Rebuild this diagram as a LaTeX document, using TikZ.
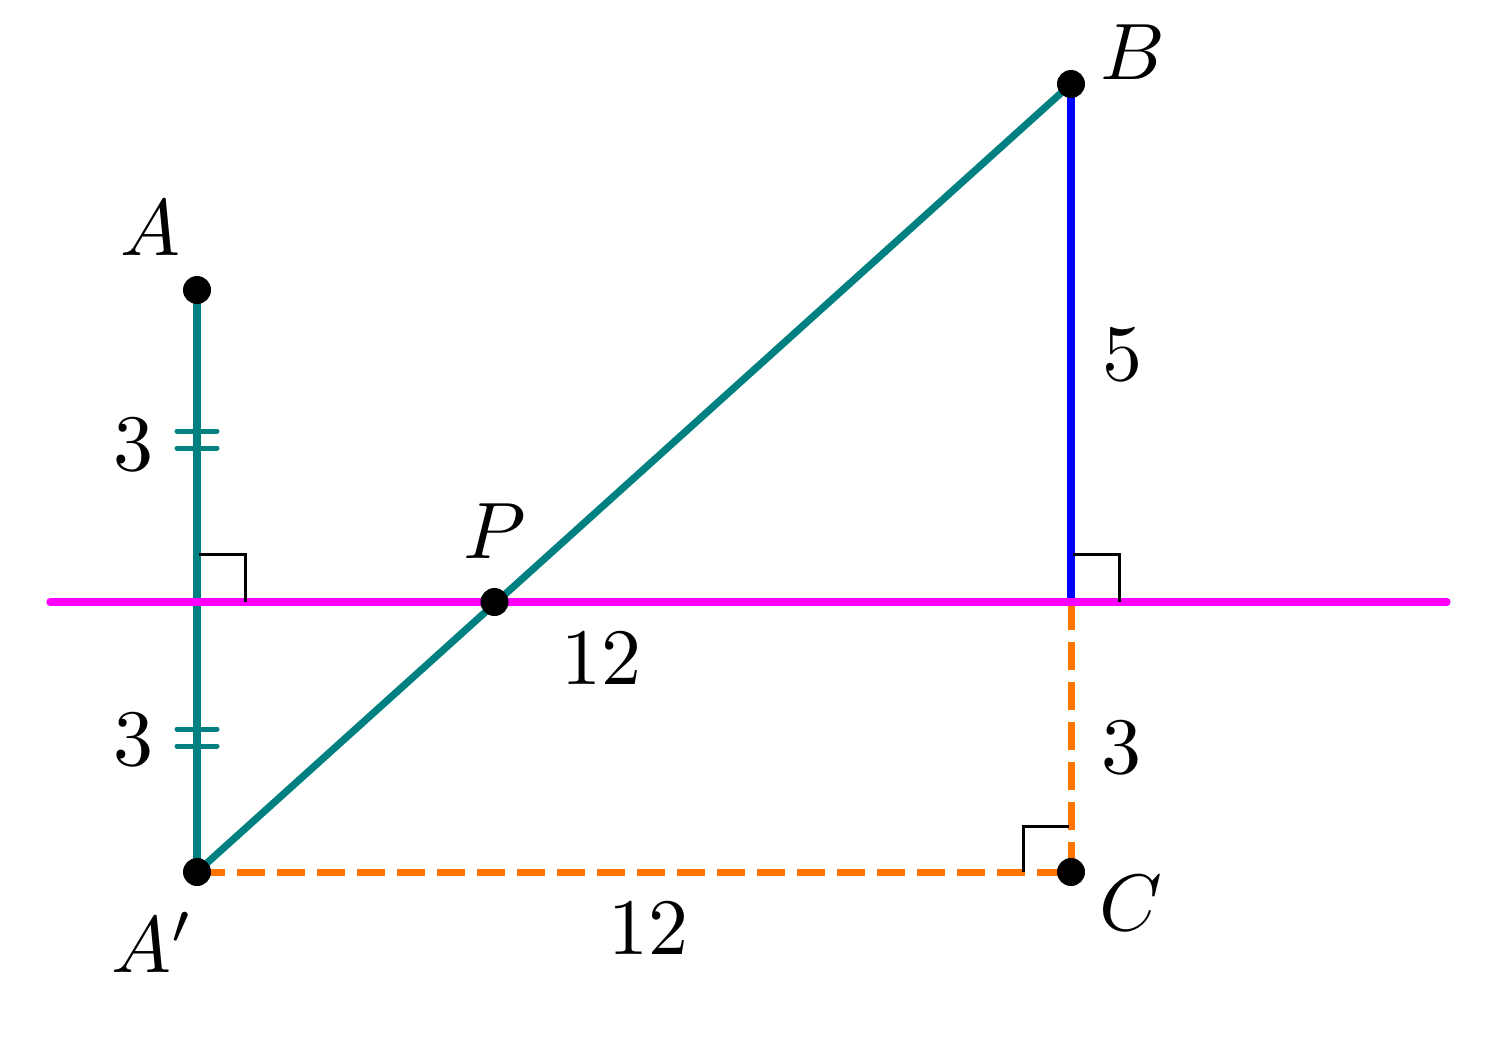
\documentclass[tikz,border=0pt]{standalone}
\definecolor{tealc}{RGB}{0,128,128}
\definecolor{bluec}{RGB}{0,0,255}
\definecolor{magc}{RGB}{255,0,255}
\definecolor{orc}{RGB}{255,117,0}
\begin{document}
\begin{tikzpicture}[x=0.5pt,y=-0.5pt,
  dot/.style={circle,fill=black,inner sep=0pt,minimum size=14pt},
  lbl/.style={scale=4, inner sep=0pt},
  tealline/.style={draw=tealc,line width=3.6pt},
  blueline/.style={draw=bluec,line width=3.6pt},
  magline/.style={draw=magc,line width=3.6pt,line cap=round},
  orline/.style={draw=orc,line width=3.5pt,dash pattern=on 14pt off 6pt},
  tickmark/.style={draw=tealc,line width=2.5pt,line cap=round},
  rightang/.style={draw=black,line width=1.5pt}]
\useasboundingbox (0,0) rectangle (1497,1051);
% points
\coordinate (A) at (197,290);
\coordinate (A2) at (197,872);
\coordinate (B) at (1071,84);
\coordinate (C) at (1071,872);
\coordinate (FA) at (197,602);
\coordinate (FB) at (1071,602);
\coordinate (L1) at (50,602);
\coordinate (L2) at (1447,602);
\coordinate (P) at (494.5,602);
% teal segments
\draw[tealline] (A) -- (A2);
\draw[tealline] (A2) -- (B);
% dashed orange
\draw[orline] (A2) -- (C);
\draw[orline] (FB) -- (C);
% blue
\draw[blueline] (B) -- (FB);
% magenta line
\draw[magline] (L1) -- (L2);
% tick marks
\draw[tickmark] (197,431) ++(-20,0) -- ++(40,0);
\draw[tickmark] (197,448) ++(-20,0) -- ++(40,0);
\draw[tickmark] (197,729) ++(-20,0) -- ++(40,0);
\draw[tickmark] (197,746) ++(-20,0) -- ++(40,0);
% right angle marks
\draw[rightang] (FA) ++(2,-48) -- ++(46,0) -- ++(0,48);
\draw[rightang] (FB) ++(2,-48) -- ++(46,0) -- ++(0,48);
\draw[rightang] (C) ++(-2,-46) -- ++(-46,0) -- ++(0,46);
% dots
\node[dot] (dA) at (A) {};
\node[dot] (dA2) at (A2) {};
\node[dot] (dB) at (B) {};
\node[dot] (dC) at (C) {};
\node[dot] (dP) at (P) {};
% labels
\node[lbl] (lA) at (150,228) {$A$};
\node[lbl] (lA2) at (153,942) {$A'$};
\node[lbl] (lB) at (1133,52) {$B$};
\node[lbl] (lC) at (1131,903) {$C$};
\node[lbl] (lP) at (495,531) {$P$};
\node[lbl] (l3a) at (133,445) {$3$};
\node[lbl] (l3b) at (133,740) {$3$};
\node[lbl] (l12a) at (601,659) {$12$};
\node[lbl] (l12b) at (648,929) {$12$};
\node[lbl] (l5) at (1122,355) {$5$};
\node[lbl] (l3c) at (1121,748) {$3$};
\end{tikzpicture}
\end{document}
